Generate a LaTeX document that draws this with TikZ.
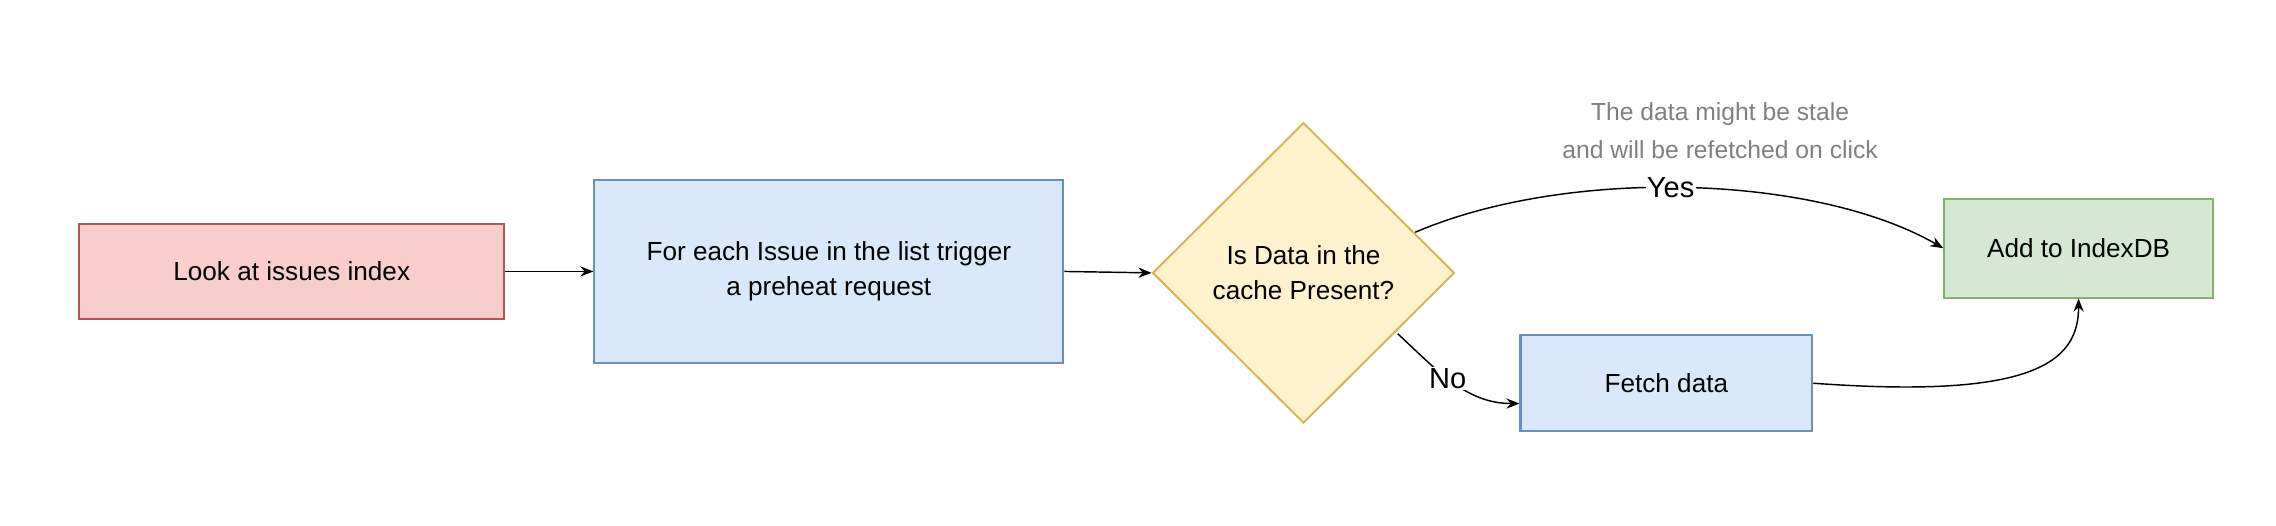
\documentclass[tikz,border=0pt]{standalone}
\usepackage{fontspec}
\setmainfont{Liberation Sans}
\usetikzlibrary{shapes.geometric,arrows.meta}
\definecolor{rf}{HTML}{F8CECC}\definecolor{rs}{HTML}{B85450}
\definecolor{bf}{HTML}{DAE8FC}\definecolor{bs}{HTML}{6C8EBF}
\definecolor{yf}{HTML}{FFF2CC}\definecolor{ys}{HTML}{D6B656}
\definecolor{gf}{HTML}{D5E8D4}\definecolor{gs}{HTML}{82B366}
\begin{document}
\begin{tikzpicture}[x=1pt,y=-1pt,
  box/.style={draw,line width=1.4pt,inner sep=0pt,align=center,font=\fontsize{18}{24}\selectfont},
  arr/.style={-{Stealth[length=9pt,width=7pt]},line width=1pt},
  lbl/.style={fill=white,inner sep=1pt,font=\fontsize{20}{24}\selectfont}]
\useasboundingbox (0,0) rectangle (1568,362);
\node[box,fill=rf,draw=rs,minimum width=293pt,minimum height=66pt] (look) at (201,187) {Look at issues index};
\node[box,fill=bf,draw=bs,minimum width=323pt,minimum height=126pt] (each) at (571,187) {For each Issue in the list trigger\\a preheat request};
\node[box,fill=yf,draw=ys,diamond,minimum width=208pt,minimum height=207pt] (dec) at (898,188) {Is Data in the\\cache Present?};
\node[box,fill=gf,draw=gs,minimum width=185pt,minimum height=68pt] (add) at (1432,171) {Add to IndexDB};
\node[box,fill=bf,draw=bs,minimum width=201pt,minimum height=66pt] (fetch) at (1148,264) {Fetch data};
\coordinate (ys) at (975,160);
\coordinate (ns) at (963,230);
\draw[arr] (look) -- (each);
\draw[arr] (each.east) -- (dec.west);
\draw[arr] (ys) .. controls (1080,115) and (1250,120) .. (add.west) node[lbl,pos=0.47] {Yes};
\draw[arr] (ns) .. controls (990,255) and (1010,278) .. (fetch.west|-0,278) node[lbl,pos=0.45] {No};
\draw[arr] (fetch.east) .. controls (1400,275) and (1432,250) .. (add.south);
\node[font=\fontsize{17}{26}\selectfont,text=gray,align=center] (note) at (1185,90) {The data might be stale\\and will be refetched on click};
\end{tikzpicture}
\end{document}
